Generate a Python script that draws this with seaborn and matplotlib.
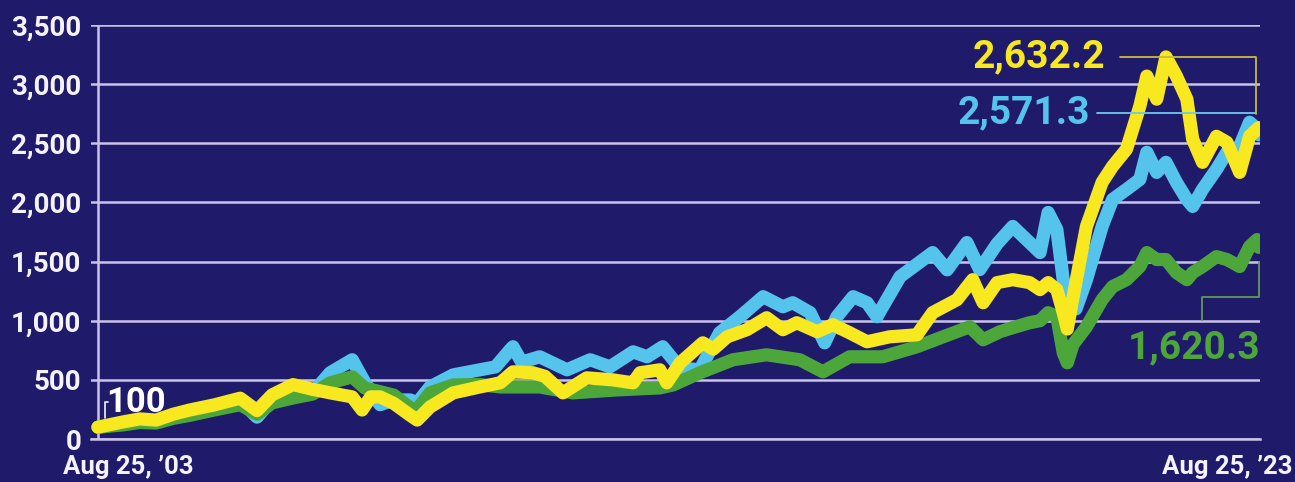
import matplotlib
matplotlib.use("Agg")
import matplotlib.pyplot as plt
import pandas as pd
import seaborn as sns

# Growth of 100 invested on Aug 25, 2003; x values are years since the start date
yellow_years = [0.0, 0.43, 0.72, 1.0, 1.3, 1.58, 2.0, 2.45, 2.74, 3.0, 3.36, 3.7,
                4.0, 4.38, 4.55, 4.7, 4.86, 5.1, 5.38, 5.5, 5.72, 6.12, 6.58, 6.93,
                7.15, 7.49, 7.7, 8.01, 8.42, 8.87, 9.1, 9.22, 9.34, 9.68, 9.8,
                10.03, 10.42, 10.6, 10.84, 11.18, 11.52, 11.8, 12.04, 12.39, 12.66,
                12.95, 13.25, 13.64, 14.11, 14.38, 14.8, 15.07, 15.25, 15.49,
                15.76, 16.05, 16.23, 16.37, 16.52, 16.63, 16.7, 16.8, 17.03, 17.3,
                17.48, 17.72, 17.95, 18.07, 18.24, 18.4, 18.58, 18.76, 18.86,
                19.03, 19.27, 19.45, 19.67, 19.84, 19.97, 20.0]
yellow = [100, 144, 170, 160, 210, 245, 288, 345, 240, 373, 460, 420,
          390, 356, 245, 356, 356, 300, 200, 160, 270, 390, 440, 475,
          568, 560, 530, 390, 517, 500, 483, 475, 560, 585, 475,
          644, 813, 760, 864, 924, 1025, 924, 983, 907, 966,
          898, 822, 864, 881, 1068, 1178, 1347, 1152, 1322,
          1347, 1322, 1263, 1322, 1263, 1068, 930, 1200, 1797, 2170,
          2305, 2450, 2814, 3068, 2873, 3230, 3068, 2873, 2534,
          2339, 2559, 2508, 2254, 2559, 2619, 2632.2]

blue_years = [0.0, 0.43, 0.72, 1.0, 1.3, 1.58, 2.0, 2.45, 2.74, 3.0, 3.36, 3.7,
              4.0, 4.38, 4.6, 4.86, 5.1, 5.38, 5.5, 5.72, 6.12, 6.58, 6.85, 7.1,
              7.15, 7.3, 7.61, 8.08, 8.48, 8.82, 9.22, 9.46, 9.73, 10.03, 10.37,
              10.71, 11.06, 11.46, 11.8, 11.97, 12.27, 12.52, 12.73, 13.01,
              13.25, 13.42, 13.82, 14.38, 14.63, 14.97, 15.19, 15.49, 15.76,
              16.05, 16.23, 16.37, 16.52, 16.63, 16.75, 16.85, 17.03, 17.3,
              17.48, 17.72, 17.95, 18.07, 18.24, 18.4, 18.58, 18.76, 18.86,
              19.03, 19.27, 19.45, 19.67, 19.84, 19.97, 20.0]
blue = [100, 130, 160, 150, 195, 225, 265, 325, 185, 330, 360, 390,
        560, 670, 475, 290, 330, 330, 305, 440, 542, 585, 610, 754,
        780, 650, 695, 585, 670, 610, 737, 695, 780, 600, 585,
        898, 1034, 1203, 1118, 1152, 1068, 813, 1034, 1203,
        1152, 1034, 1373, 1576, 1430, 1661, 1432, 1650, 1797,
        1661, 1576, 1915, 1771, 1347, 1100, 1100, 1347, 1797,
        2025, 2110, 2195, 2424, 2254, 2339, 2170, 2025, 1966,
        2110, 2280, 2424, 2475, 2678, 2620, 2571.3]

green_years = [0.0, 0.43, 0.72, 1.0, 1.3, 1.58, 2.0, 2.45, 2.74, 3.0, 3.36, 3.7,
               4.0, 4.38, 4.6, 4.86, 5.1, 5.38, 5.5, 5.72, 6.12, 6.58, 6.93, 7.61,
               8.18, 8.94, 9.68, 9.91, 10.37, 10.94, 11.52, 12.09, 12.49, 12.95,
               13.52, 14.11, 14.56, 15.02, 15.25, 15.54, 15.76, 16.05, 16.23,
               16.37, 16.52, 16.63, 16.7, 16.8, 17.03, 17.3, 17.48, 17.72, 17.95,
               18.07, 18.24, 18.4, 18.58, 18.76, 18.86, 19.03, 19.27, 19.45,
               19.67, 19.84, 19.97, 20.0]
green = [100, 119, 140, 135, 175, 200, 245, 290, 210, 305, 347, 380,
         475, 525, 430, 400, 370, 262, 250, 390, 457, 460, 440, 440,
         390, 415, 432, 457, 560, 670, 712, 670, 568, 695,
         695, 780, 864, 949, 839, 907, 941, 983, 1000,
         1068, 1034, 729, 644, 800, 949, 1178, 1288, 1347, 1458,
         1576, 1517, 1517, 1407, 1347, 1407, 1458, 1542, 1517,
         1458, 1627, 1686, 1620.3]

series_names = ["blue", "green", "yellow"]
end_labels = {"yellow": "2,632.2", "blue": "2,571.3", "green": "1,620.3"}
start_label = "100"
y_ticks = [0, 500, 1000, 1500, 2000, 2500, 3000, 3500]
x_start_label = "Aug 25, \u201903"
x_end_label = "Aug 25, \u201923"

NAVY = "#201a6a"
GRID = "#c9c4e6"
TEXT = "#f4f2fb"
COLORS = {"blue": "#55c4ec", "green": "#4ca63a", "yellow": "#f8e81f"}
LEADER = {"blue": "#6ccbee", "green": "#5f9a55", "yellow": "#c9bb3c"}

sns.set_theme(style="white")
plt.rcParams["font.family"] = ["Roboto", "DejaVu Sans"]
plt.rcParams["font.weight"] = "bold"

df = pd.concat([
    pd.DataFrame({"year": blue_years, "value": blue, "series": "blue"}),
    pd.DataFrame({"year": green_years, "value": green, "series": "green"}),
    pd.DataFrame({"year": yellow_years, "value": yellow, "series": "yellow"}),
], ignore_index=True)

fig = plt.figure(figsize=(12.95, 4.82), dpi=100, facecolor=NAVY)
ax = fig.add_axes([91 / 1295, 43 / 482, 1169 / 1295, 414 / 482])
ax.set_facecolor(NAVY)

sns.lineplot(data=df, x="year", y="value", hue="series", hue_order=series_names,
             palette=COLORS, linewidth=9.5, legend=False, sort=False,
             estimator=None, ax=ax, solid_joinstyle="round", solid_capstyle="round")

ax.set_xlim(-0.12, 20.02)
ax.set_ylim(0, 3500)
ax.set_yticks(y_ticks)
ax.set_yticklabels([f"{v:,}" for v in y_ticks], color=TEXT, fontsize=20, fontweight="bold")
ax.set_xticks(range(0, 21))
ax.set_xticklabels([])
ax.tick_params(axis="y", length=0, pad=7)
ax.tick_params(axis="x", length=4, width=1.5, color=GRID, direction="out")
ax.yaxis.grid(True, color=GRID, linewidth=1.8, zorder=0)
ax.set_axisbelow(True)
for side in ["top", "right", "left"]:
    ax.spines[side].set_visible(False)
ax.spines["bottom"].set_color(GRID)
ax.spines["bottom"].set_linewidth(1.8)
ax.axvline(yellow_years[0], color=GRID, linewidth=1.8, zorder=0.5)
ax.set_xlabel("")
ax.set_ylabel("")

ax.annotate(x_start_label, xy=(yellow_years[0], 0), xytext=(-35, -35),
            textcoords="offset pixels", ha="left", va="baseline", color=TEXT,
            fontsize=18.5, fontweight="bold", annotation_clip=False)
ax.annotate(x_end_label, xy=(yellow_years[-1], 0), xytext=(34, -35),
            textcoords="offset pixels", ha="right", va="baseline", color=TEXT,
            fontsize=18.5, fontweight="bold", annotation_clip=False)

# start value label with small bracket
ax.plot([0.12, 0.12, 0.17], [178, 314, 314], color=TEXT, linewidth=1.2)
ax.text(0.15, 229, start_label, color="white", fontsize=25, fontweight="bold",
        ha="left", va="baseline")

# end value labels with leader lines
ax.plot([17.6, 19.95, 19.95], [3230, 3230, 2746], color=LEADER["yellow"], linewidth=1.3)
ax.text(17.35, 3144, end_labels["yellow"], color=COLORS["yellow"], fontsize=28,
        fontweight="bold", ha="right", va="baseline")
ax.plot([17.21, 19.93], [2754, 2754], color=LEADER["blue"], linewidth=1.3)
ax.text(17.09, 2670, end_labels["blue"], color=COLORS["blue"], fontsize=28,
        fontweight="bold", ha="right", va="baseline")
ax.plot([19.02, 19.02, 20.0, 20.0], [1008, 1203, 1203, 1500], color=LEADER["green"],
        linewidth=1.3)
ax.text(20.02, 686, end_labels["green"], color=COLORS["green"], fontsize=28,
        fontweight="bold", ha="right", va="baseline")

fig.savefig("out.png", dpi=100, facecolor=NAVY)
